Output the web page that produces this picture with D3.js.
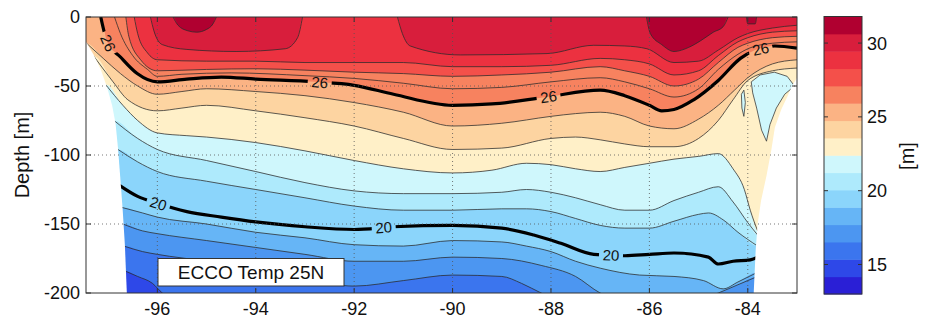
<!DOCTYPE html>
<html><head><meta charset="utf-8">
<script src="https://cdn.jsdelivr.net/npm/d3@7"></script>
<style>
body{margin:0;background:#fff}
svg{display:block}
text{font-family:"Liberation Sans",Arial,Helvetica,sans-serif;fill:#111}
</style>
</head><body>
<svg id="chart" width="928" height="322"></svg>
<script>
// ---------------- data ----------------
// isotherms: [longitude, depth in m (positive down)]
const iso16 = [[-96.66,184],[-96.4,188],[-96.1,193],[-95.9,200],[-95.5,208],[-95.0,214],[-90.0,220],[-83.0,220]];
const iso17 = [[-96.68,166],[-96.3,170],[-96.0,172],[-95.0,177],[-94.0,183],[-93.0,190],[-92.0,195],[-91.0,191],[-90.0,187],[-89.0,188],[-88.6,193],[-88.2,200],[-87.5,210],[-86.0,215],[-83.0,215]];
const iso18 = [[-96.7,150],[-96.3,155],[-96.0,157],[-95.0,162],[-94.0,167],[-93.0,172],[-92.0,177],[-91.0,177],[-90.0,174],[-89.0,175],[-88.2,180],[-87.5,188],[-87.0,200],[-86.5,206],[-86.0,208],[-85.0,205],[-84.6,200],[-84.2,194],[-83.8,188]];
const iso19 = [[-96.72,138],[-96.3,142],[-96.0,145],[-95.0,150],[-94.0,156],[-93.0,160],[-92.0,165],[-91.0,166],[-90.0,162],[-89.0,163],[-88.5,166],[-88.0,170],[-87.5,177],[-87.0,182],[-86.2,187],[-85.5,188],[-84.9,191],[-84.5,197],[-84.2,192],[-83.8,185]];
const iso20 = [[-96.77,122],[-96.4,130],[-96.0,135],[-95.4,141],[-94.7,145],[-94.0,148.5],[-93.0,152],[-92.0,154],[-91.2,152],[-90.0,151],[-89.0,153],[-88.35,158],[-87.8,164],[-87.13,172],[-86.5,173],[-86.0,172],[-85.5,171],[-84.8,174],[-84.6,179],[-84.3,177],[-83.95,176],[-83.8,174]];
const iso21 = [[-96.8,96],[-96.4,105],[-96.0,112],[-95.0,119],[-94.0,125],[-93.0,131],[-92.0,137],[-91.0,140],[-90.0,140],[-89.0,139],[-88.5,139],[-88.0,141],[-87.5,146],[-87.0,151],[-86.5,153],[-86.0,153],[-85.5,148],[-85.0,143],[-84.8,142],[-84.5,147],[-84.2,156],[-83.8,166]];
const iso22 = [[-96.88,75],[-96.4,88],[-96.0,96],[-95.0,104],[-94.0,112],[-93.0,120],[-92.0,126],[-91.0,128],[-90.0,128],[-89.0,127],[-88.5,125],[-88.0,127],[-87.5,131],[-87.0,136],[-86.5,140],[-86.0,140],[-85.5,133],[-85.0,127],[-84.6,123],[-84.3,134],[-84.0,149],[-83.8,158]];
const iso23 = [[-97.05,49],[-96.7,64],[-96.4,75],[-96.0,84],[-95.4,86],[-95.0,87],[-94.0,91],[-93.0,97],[-92.0,104],[-91.0,110],[-90.0,113],[-89.2,111],[-88.5,106],[-88.0,107],[-87.5,110],[-87.0,112],[-86.5,109],[-86.0,106],[-85.5,103],[-85.0,101],[-84.6,99],[-84.3,110],[-84.07,125],[-83.95,140],[-83.8,155]];
const iso24 = [[-97.3,28],[-96.9,47],[-96.6,60],[-96.0,68],[-95.5,66],[-95.0,64],[-94.0,68],[-93.0,73],[-92.0,79],[-91.0,88],[-90.0,96],[-89.0,95],[-88.0,88],[-87.5,87],[-87.0,89],[-86.5,92],[-86.0,94],[-85.5,94],[-85.0,88],[-84.6,75],[-84.3,60],[-84.0,46],[-83.5,39],[-83.0,37]];
const iso25 = [[-97.44,19],[-97.1,30],[-96.75,41],[-96.4,50],[-96.0,56],[-95.5,54],[-95.0,52],[-94.0,54],[-93.0,57],[-92.0,62],[-91.0,69],[-90.0,79],[-89.0,77],[-88.0,72],[-87.5,70],[-87.0,69],[-86.5,72],[-86.0,79],[-85.5,81],[-85.0,74],[-84.6,64],[-84.27,53],[-84.0,44],[-83.5,34],[-83.0,31]];
const iso26 = [[-97.15,0],[-97.02,18],[-96.75,29],[-96.41,41],[-96.0,47],[-95.4,45],[-94.7,43.5],[-94.0,45],[-92.8,47],[-92.0,49.5],[-91.2,56],[-90.0,64],[-89.2,63],[-88.1,58],[-87.0,53],[-86.5,57],[-86.0,64],[-85.75,68],[-85.5,67],[-85.1,60],[-84.6,46],[-84.15,30],[-83.85,24],[-83.45,21],[-83.0,22.5]];
const iso27 = [[-96.87,0],[-96.75,12],[-96.5,28],[-96.2,38],[-96.0,43],[-95.5,41.5],[-94.5,40.5],[-93.0,42.5],[-92.0,44.5],[-91.0,48],[-90.0,52],[-89.0,51],[-88.0,47],[-87.0,44],[-86.5,47],[-86.0,52],[-85.5,58],[-85.0,52],[-84.6,38],[-84.2,27],[-84.0,23],[-83.5,19],[-83.0,18]];
const iso28 = [[-96.64,0],[-96.58,14],[-96.34,31],[-96.0,39],[-95.0,38],[-94.0,37.5],[-93.0,38.5],[-92.0,40],[-91.0,41],[-90.0,43],[-89.0,42],[-88.0,40],[-87.0,36],[-86.5,39],[-86.0,43],[-85.5,50],[-85.0,45],[-84.6,33],[-84.2,22],[-84.0,19],[-83.5,15],[-83.0,14]];
const iso29 = [[-96.47,0],[-96.4,12],[-96.2,26],[-96.0,31],[-95.0,32],[-94.0,32],[-93.0,33],[-92.0,33],[-91.0,33],[-90.0,36],[-89.0,36],[-88.0,35],[-87.0,30],[-86.5,31],[-86.0,34],[-85.5,42],[-85.0,39],[-84.6,28],[-84.2,18],[-84.0,15],[-83.5,11],[-83.0,10]];
const iso30 = [[-96.14,0],[-96.07,10],[-95.9,20],[-95.4,23.5],[-94.4,25],[-93.4,23],[-93.15,15],[-93.05,0],[-91.12,0],[-91.02,12],[-90.86,21],[-89.84,27.5],[-88.08,26.5],[-87.13,20.5],[-86.5,21],[-86.05,23],[-85.5,33],[-85.0,32],[-84.6,24],[-84.2,15],[-84.0,12],[-83.5,8],[-83.0,6]];
const iso31 = [[-95.68,0],[-95.58,6],[-95.38,10],[-95.2,11],[-95.0,9],[-94.87,5],[-94.8,0],[-86.06,0],[-85.98,12],[-85.75,20],[-85.5,25],[-85.2,22],[-84.95,17],[-84.7,11],[-84.5,7],[-84.4,0],[-84.03,0],[-84.0,5],[-83.85,5],[-83.82,0]];
// closed pocket of water colder than 23 on the eastern slope
const coldPocket23a = [[-83.93,47],[-83.75,42],[-83.46,40],[-83.2,43],[-83.05,50],[-83.25,56],[-83.42,66],[-83.55,78],[-83.62,90],[-83.72,82],[-83.82,66],[-83.9,55]];
const coldPocket23b = [[-84.13,56],[-84.08,53],[-84.05,62],[-84.08,72],[-84.12,66]];
// sea floor (bathymetry) outlines
const leftWall  = [[-97.45,18],[-97.3,27],[-97.15,38],[-97.02,51],[-96.92,64],[-96.85,77],[-96.8,95],[-96.75,118],[-96.7,142],[-96.66,165],[-96.62,200]];
const rightWall = [[-83.0,44],[-83.1,50],[-83.2,58],[-83.32,67],[-83.45,80],[-83.52,96],[-83.62,115],[-83.73,133],[-83.8,150],[-83.84,169],[-83.88,200]];

const levels = [16,17,18,19,20,21,22,23,24,25,26,27,28,29,30,31];
const isotherms = [iso16,iso17,iso18,iso19,iso20,iso21,iso22,iso23,iso24,iso25,iso26,iso27,iso28,iso29,iso30,iso31];
const baseLevel = 15;
const boldLevels = [20, 26];
const labelLon = {26: [-97.0, -92.7, -88.05, -83.74], 20: [-95.98, -91.4, -86.78]};

const xDomain = [-97.45, -83.0];
const yDomain = [-200, 0];
const xTicks = [-96, -94, -92, -90, -88, -86, -84];
const yTicks = [0, -50, -100, -150, -200];
const cbTicks = [15, 20, 25, 30];
const colorLimits = [13, 31.8];
// colorbar colours, top (warm) to bottom (cold)
const colormap = ["#b00030","#d81e3c","#ec3140","#f4504a","#f7825f","#fbb384","#fdd4a1","#fff0c8",
                  "#cff7fc","#aeeafc","#8bd5fb","#66b5f6","#4c96f1","#3b75ee","#2e48e8","#2a1fd6"];
const titleText = "ECCO Temp 25N";
const yLabel = "Depth [m]";
const cbLabel = "[m]";

// ---------------- drawing ----------------
const svg = d3.select("#chart");
const P = {l: 86, r: 797, t: 17, b: 293};
const x = d3.scaleLinear().domain(xDomain).range([P.l, P.r]);
const y = d3.scaleLinear().domain(yDomain).range([P.b, P.t]);
const cmapUp = colormap.slice().reverse();
function bandColor(T) {
  const i = Math.floor((T - colorLimits[0]) / (colorLimits[1] - colorLimits[0]) * cmapUp.length);
  return cmapUp[Math.max(0, Math.min(cmapUp.length - 1, i))];
}
const defs = svg.append("defs");
defs.append("clipPath").attr("id", "plotClip").append("rect")
  .attr("x", P.l).attr("y", P.t).attr("width", P.r - P.l).attr("height", P.b - P.t);

const area = d3.area().x(d => x(d[0])).y0(y(0)).y1(d => y(-d[1])).curve(d3.curveMonotoneX);
const line = d3.line().x(d => x(d[0])).y(d => y(-d[1])).curve(d3.curveMonotoneX);

function extended(pts) {
  const a = pts.slice();
  if (a[0][0] > xDomain[0]) a.unshift([xDomain[0], a[0][1]]);
  if (a[a.length - 1][0] < xDomain[1]) a.push([xDomain[1], a[a.length - 1][1]]);
  return a;
}
function runs(pts) {
  const out = []; let cur = null;
  for (let i = 0; i < pts.length - 1; i++) {
    if (pts[i][1] > 0 || pts[i + 1][1] > 0) {
      if (!cur) { cur = [pts[i]]; out.push(cur); }
      cur.push(pts[i + 1]);
    } else cur = null;
  }
  return out;
}
function depthAt(pts, lon) {
  for (let i = 0; i < pts.length - 1; i++) {
    const a = pts[i], b = pts[i + 1];
    if (lon >= a[0] && lon <= b[0]) return a[1] + (b[1] - a[1]) * (lon - a[0]) / (b[0] - a[0]);
  }
  return pts[pts.length - 1][1];
}

const plot = svg.append("g").attr("clip-path", "url(#plotClip)");
// base (coldest) fill
plot.append("rect").attr("x", P.l).attr("y", P.t).attr("width", P.r - P.l).attr("height", P.b - P.t)
  .attr("fill", bandColor(baseLevel));
// filled bands: water above each isotherm, painted from cold to warm
levels.forEach((T, k) => {
  plot.append("path").attr("d", area(extended(isotherms[k]))).attr("fill", bandColor(T));
});
// cold pocket
const closed = d3.line().x(d => x(d[0])).y(d => y(-d[1])).curve(d3.curveLinearClosed);
[coldPocket23a, coldPocket23b].forEach(p => {
  plot.append("path").attr("d", closed(p)).attr("fill", bandColor(22))
    .attr("stroke", "#333").attr("stroke-width", 0.9).attr("stroke-opacity", 0.85);
});

// label gap mask for bold contours
const mask = defs.append("mask").attr("id", "gapMask").attr("maskUnits", "userSpaceOnUse")
  .attr("x", 0).attr("y", 0).attr("width", 928).attr("height", 322);
mask.append("rect").attr("x", 0).attr("y", 0).attr("width", 928).attr("height", 322).attr("fill", "#fff");
const labelInfo = [];
boldLevels.forEach(T => {
  const pts = isotherms[levels.indexOf(T)];
  labelLon[T].forEach(lon => {
    const d = depthAt(pts, lon);
    const d1 = depthAt(pts, lon - 0.12), d2 = depthAt(pts, lon + 0.12);
    const ang = Math.atan2(y(-d2) - y(-d1), x(lon + 0.12) - x(lon - 0.12)) * 180 / Math.PI;
    labelInfo.push({T, px: x(lon), py: y(-d), ang});
  });
});
labelInfo.forEach(L => {
  mask.append("rect").attr("x", -12).attr("y", -7).attr("width", 24).attr("height", 14)
    .attr("transform", `translate(${L.px},${L.py}) rotate(${L.ang})`).attr("fill", "#000");
});

// thin contour lines
levels.forEach((T, k) => {
  if (boldLevels.includes(T)) return;
  runs(isotherms[k]).forEach(r => {
    plot.append("path").attr("d", line(r)).attr("fill", "none")
      .attr("stroke", "#2a2a2a").attr("stroke-width", 0.9).attr("stroke-opacity", 0.85);
  });
});
// bold contour lines
const boldG = plot.append("g").attr("mask", "url(#gapMask)");
boldLevels.forEach(T => {
  runs(isotherms[levels.indexOf(T)]).forEach(r => {
    boldG.append("path").attr("d", line(r)).attr("fill", "none")
      .attr("stroke", "#000").attr("stroke-width", 3.2).attr("stroke-linejoin", "round");
  });
});
// sea floor masks
const leftPoly = [[xDomain[0], leftWall[0][1]]].concat(leftWall, [[leftWall[leftWall.length-1][0], 200], [xDomain[0], 200]]);
const rightPoly = rightWall.concat([[xDomain[1], 200]]);
const poly = d3.line().x(d => x(d[0])).y(d => y(-d[1])).curve(d3.curveLinearClosed);
plot.append("path").attr("d", poly(leftPoly)).attr("fill", "#fff");
plot.append("path").attr("d", poly(rightPoly.concat([[xDomain[1], rightWall[0][1]]]))).attr("fill", "#fff");

// contour labels
labelInfo.forEach(L => {
  svg.append("text").attr("transform", `translate(${L.px},${L.py}) rotate(${L.ang})`)
    .attr("text-anchor", "middle").attr("dy", "0.36em").attr("font-size", 15).text(L.T);
});

// grid
const grid = svg.append("g").attr("stroke", "#555").attr("stroke-width", 1).attr("stroke-dasharray", "1,3").attr("stroke-opacity", 0.8);
xTicks.forEach(v => grid.append("line").attr("x1", x(v)).attr("x2", x(v)).attr("y1", P.t).attr("y2", P.b));
yTicks.filter(v => v > yDomain[0] && v < yDomain[1]).forEach(v =>
  grid.append("line").attr("x1", P.l).attr("x2", P.r).attr("y1", y(v)).attr("y2", y(v)));

// axes: frame, inward ticks, labels
const ax = svg.append("g").attr("stroke", "#333").attr("stroke-width", 1);
ax.append("rect").attr("x", P.l).attr("y", P.t).attr("width", P.r - P.l).attr("height", P.b - P.t).attr("fill", "none");
xTicks.forEach(v => {
  ax.append("line").attr("x1", x(v)).attr("x2", x(v)).attr("y1", P.b).attr("y2", P.b - 5);
  ax.append("line").attr("x1", x(v)).attr("x2", x(v)).attr("y1", P.t).attr("y2", P.t + 5);
});
yTicks.forEach(v => {
  ax.append("line").attr("x1", P.l).attr("x2", P.l + 5).attr("y1", y(v)).attr("y2", y(v));
  ax.append("line").attr("x1", P.r).attr("x2", P.r - 5).attr("y1", y(v)).attr("y2", y(v));
});
xTicks.forEach(v => svg.append("text").attr("x", x(v)).attr("y", 315).attr("text-anchor", "middle")
  .attr("font-size", 18).text(String(v)));
yTicks.forEach(v => svg.append("text").attr("x", P.l - 6).attr("y", y(v)).attr("dy", "0.36em")
  .attr("text-anchor", "end").attr("font-size", 18).text(String(v)));
svg.append("text").attr("transform", "translate(29,155) rotate(-90)").attr("text-anchor", "middle")
  .attr("font-size", 20).text(yLabel);

// title box
svg.append("rect").attr("x", 158).attr("y", 258.5).attr("width", 186).attr("height", 27.5)
  .attr("fill", "#fff").attr("stroke", "#333").attr("stroke-width", 1);
svg.append("text").attr("x", 251).attr("y", 278.5).attr("text-anchor", "middle").attr("font-size", 19).text(titleText);

// colorbar
const CB = {l: 824, r: 862, t: 16.5, b: 294};
const cy = d3.scaleLinear().domain(colorLimits).range([CB.b, CB.t]);
const step = (colorLimits[1] - colorLimits[0]) / cmapUp.length;
cmapUp.forEach((c, i) => {
  const v0 = colorLimits[0] + i * step, v1 = v0 + step;
  svg.append("rect").attr("x", CB.l).attr("width", CB.r - CB.l)
    .attr("y", cy(v1)).attr("height", cy(v0) - cy(v1) + 0.5).attr("fill", c);
});
const cb = svg.append("g").attr("stroke", "#333").attr("stroke-width", 1);
cb.append("rect").attr("x", CB.l).attr("y", CB.t).attr("width", CB.r - CB.l).attr("height", CB.b - CB.t).attr("fill", "none");
cbTicks.forEach(v => {
  cb.append("line").attr("x1", CB.l).attr("x2", CB.l + 4).attr("y1", cy(v)).attr("y2", cy(v));
  cb.append("line").attr("x1", CB.r).attr("x2", CB.r - 4).attr("y1", cy(v)).attr("y2", cy(v));
  svg.append("text").attr("x", CB.r + 5).attr("y", cy(v)).attr("dy", "0.36em").attr("font-size", 18).text(String(v));
});
svg.append("text").attr("transform", "translate(914,156) rotate(-90)").attr("text-anchor", "middle")
  .attr("font-size", 20).text(cbLabel);
</script>
</body></html>
